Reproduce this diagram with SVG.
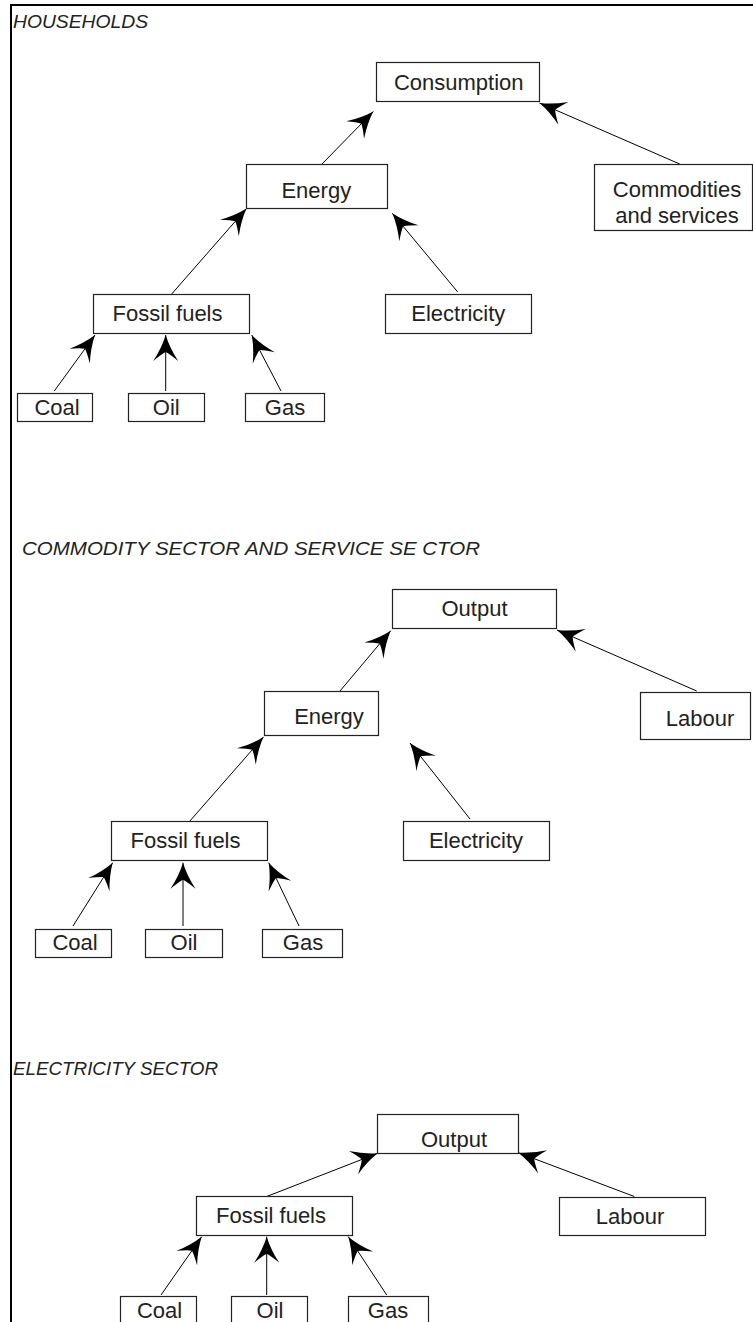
<svg xmlns="http://www.w3.org/2000/svg" width="753" height="1322" viewBox="0 0 753 1322">
<style>
.box{fill:#fff;stroke:#222;stroke-width:1.2}
.lbl{font-family:"Liberation Sans",Arial,sans-serif;font-size:22px;fill:#222;text-anchor:middle}
.ttl{font-family:"Liberation Sans",Arial,sans-serif;font-size:19px;font-style:italic;fill:#222}
.con line{stroke:#000;stroke-width:1;marker-end:url(#ah)}
</style>
<defs>
<marker id="ah" markerUnits="userSpaceOnUse" orient="auto" refX="0" refY="0" markerWidth="30" markerHeight="30" viewBox="-28 -14 30 28" overflow="visible">
<path d="M0,0 Q-13,-4 -26,-12.5 Q-19,-4 -17,0 Q-19,4 -26,12.5 Q-13,4 0,0 Z" fill="#000"/>
</marker>
</defs>
<rect width="753" height="1322" fill="#fff"/>
<g id="frame">
<line x1="11" y1="5" x2="753" y2="5" stroke="#000" stroke-width="2"/>
<line x1="11" y1="4" x2="11" y2="1322" stroke="#000" stroke-width="2"/>
</g>
<g id="titles">
<text class="ttl" x="13" y="28" textLength="135" lengthAdjust="spacingAndGlyphs">HOUSEHOLDS</text>
<text class="ttl" x="22" y="555" textLength="458" lengthAdjust="spacingAndGlyphs">COMMODITY SECTOR AND SERVICE SE CTOR</text>
<text class="ttl" x="13" y="1075" textLength="205" lengthAdjust="spacingAndGlyphs">ELECTRICITY SECTOR</text>
</g>
<g id="connectors" class="con">
<line x1="322" y1="164" x2="373.3" y2="111.5"/>
<line x1="679.7" y1="164" x2="539.5" y2="103"/>
<line x1="171.7" y1="294" x2="246.5" y2="208.5"/>
<line x1="457.7" y1="292" x2="392.3" y2="213.3"/>
<line x1="54.3" y1="391" x2="95" y2="335"/>
<line x1="165.7" y1="391" x2="165.7" y2="335"/>
<line x1="281" y1="391" x2="251.7" y2="335"/>
<line x1="340" y1="691" x2="390.7" y2="630.7"/>
<line x1="696.7" y1="691" x2="557" y2="630"/>
<line x1="189" y1="822" x2="263.5" y2="737"/>
<line x1="470" y1="819" x2="410" y2="743"/>
<line x1="73" y1="926" x2="112.7" y2="862.7"/>
<line x1="183" y1="926" x2="183" y2="862.7"/>
<line x1="299" y1="926" x2="268.7" y2="862.7"/>
<line x1="266.7" y1="1196.5" x2="377.7" y2="1153.3"/>
<line x1="634.3" y1="1196.5" x2="518.3" y2="1152.7"/>
<line x1="161" y1="1295" x2="201.7" y2="1236.7"/>
<line x1="266.7" y1="1295" x2="266.7" y2="1236.7"/>
<line x1="386.7" y1="1295" x2="348.3" y2="1236.7"/>
</g>
<g id="h-consumption"><rect class="box" x="376.5" y="62.5" width="163" height="39"/><text class="lbl" x="458.7" y="90">Consumption</text></g>
<g id="h-energy"><rect class="box" x="246.5" y="164.5" width="141" height="44"/><text class="lbl" x="316.3" y="198">Energy</text></g>
<g id="h-commodities"><rect class="box" x="594.5" y="164.5" width="158" height="66"/><text class="lbl" x="677" y="197">Commodities</text><text class="lbl" x="677" y="222.5">and services</text></g>
<g id="h-fossil"><rect class="box" x="93.5" y="294.5" width="156" height="39"/><text class="lbl" x="167.5" y="321">Fossil fuels</text></g>
<g id="h-electricity"><rect class="box" x="385.5" y="294.5" width="146" height="39"/><text class="lbl" x="458.3" y="321">Electricity</text></g>
<g id="h-coal"><rect class="box" x="17.5" y="393.5" width="75" height="28"/><text class="lbl" x="57" y="414.5">Coal</text></g>
<g id="h-oil"><rect class="box" x="128.5" y="393.5" width="76" height="28"/><text class="lbl" x="166.3" y="414.5">Oil</text></g>
<g id="h-gas"><rect class="box" x="245.5" y="393.5" width="79" height="28"/><text class="lbl" x="285" y="414.5">Gas</text></g>
<g id="c-output"><rect class="box" x="392.5" y="589.5" width="164" height="39"/><text class="lbl" x="474.5" y="616">Output</text></g>
<g id="c-energy"><rect class="box" x="264.5" y="691.5" width="114" height="44"/><text class="lbl" x="329" y="724">Energy</text></g>
<g id="c-labour"><rect class="box" x="640.5" y="692.5" width="110" height="47"/><text class="lbl" x="700" y="726">Labour</text></g>
<g id="c-fossil"><rect class="box" x="111.5" y="821.5" width="156" height="39"/><text class="lbl" x="185.5" y="848">Fossil fuels</text></g>
<g id="c-electricity"><rect class="box" x="403.5" y="821.5" width="146" height="39"/><text class="lbl" x="476" y="848">Electricity</text></g>
<g id="c-coal"><rect class="box" x="35.5" y="929.5" width="76" height="28"/><text class="lbl" x="75" y="950">Coal</text></g>
<g id="c-oil"><rect class="box" x="145.5" y="929.5" width="77" height="28"/><text class="lbl" x="184" y="950">Oil</text></g>
<g id="c-gas"><rect class="box" x="262.5" y="929.5" width="80" height="28"/><text class="lbl" x="303" y="950">Gas</text></g>
<g id="e-output"><rect class="box" x="377.5" y="1114.5" width="141" height="39"/><text class="lbl" x="454" y="1147">Output</text></g>
<g id="e-fossil"><rect class="box" x="196.5" y="1196.5" width="156" height="39"/><text class="lbl" x="271" y="1223">Fossil fuels</text></g>
<g id="e-labour"><rect class="box" x="559.5" y="1197.5" width="146" height="38"/><text class="lbl" x="630" y="1224">Labour</text></g>
<g id="e-coal"><rect class="box" x="120.5" y="1296.5" width="76" height="40"/><text class="lbl" x="159.5" y="1317.5">Coal</text></g>
<g id="e-oil"><rect class="box" x="231.5" y="1296.5" width="76" height="40"/><text class="lbl" x="270" y="1317.5">Oil</text></g>
<g id="e-gas"><rect class="box" x="348.5" y="1296.5" width="80" height="40"/><text class="lbl" x="388" y="1317.5">Gas</text></g>
</svg>
